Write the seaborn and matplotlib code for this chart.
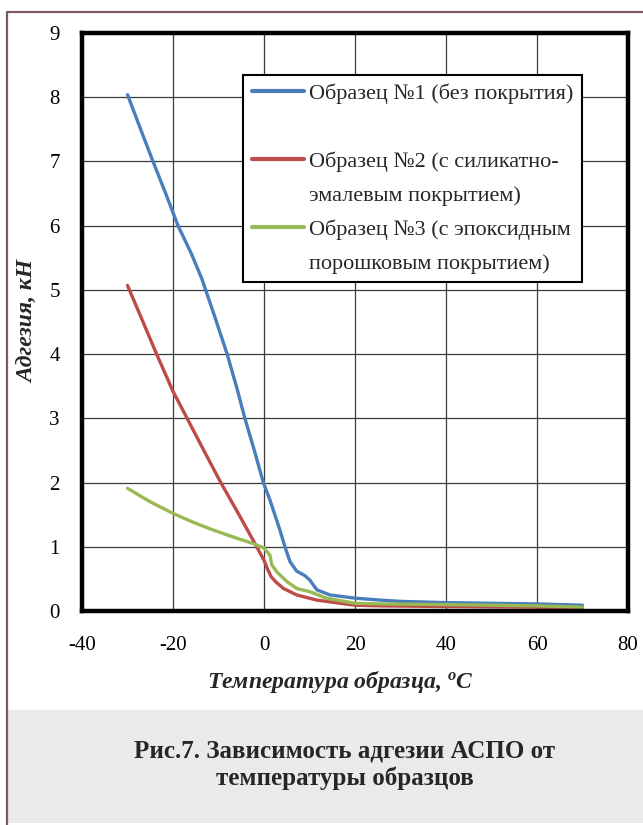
import matplotlib
matplotlib.use("Agg")
import matplotlib.pyplot as plt
import seaborn as sns
import pandas as pd
from matplotlib.lines import Line2D
from matplotlib.patches import Rectangle

# ---- data ----
series_names = ["Образец №1 (без покрытия)",
                "Образец №2 (с силикатно-эмалевым покрытием)",
                "Образец №3 (с эпоксидным порошковым покрытием)"]

t1 = [-30, -27, -24.4, -21.6, -18.9, -16, -13.7, -11, -8.1, -6, -4.2, -2, -0.15, 1.3,
      3.5, 4.6, 5.7, 7.2, 9, 10.1, 11.6, 14.5, 20, 25.5, 30, 40, 50, 60, 70]
f1 = [8.04, 7.48, 7.0, 6.5, 6.0, 5.57, 5.18, 4.62, 4.0, 3.48, 3.0, 2.47, 2.0, 1.73,
      1.26, 1.0, 0.77, 0.62, 0.55, 0.48, 0.33, 0.25, 0.2, 0.17, 0.15, 0.13, 0.12, 0.11, 0.09]

t2 = [-30, -27, -23.6, -20, -16.9, -13, -9.5, -5.5, -1.6, 0, 0.8, 1.6, 2.8, 4.3, 7.2,
      11.6, 20, 25.5, 40, 60, 70]
f2 = [5.07, 4.57, 4.0, 3.42, 3.0, 2.47, 2.0, 1.5, 1.0, 0.79, 0.65, 0.53, 0.44, 0.35,
      0.25, 0.17, 0.09, 0.08, 0.07, 0.06, 0.03]

t3 = [-30, -25, -20, -15.5, -11.9, -7.5, -2.4, 0, 1.3, 1.7, 2.8, 5, 7.2, 10.1, 13.7,
      20, 25.5, 40, 60, 70]
f3 = [1.91, 1.7, 1.52, 1.38, 1.28, 1.17, 1.05, 0.98, 0.87, 0.72, 0.61, 0.46, 0.35,
      0.30, 0.2, 0.12, 0.11, 0.10, 0.08, 0.06]

x_ticks = [-40, -20, 0, 20, 40, 60, 80]
y_ticks = [0, 1, 2, 3, 4, 5, 6, 7, 8, 9]
colors = ["#4A7EBB", "#BE4B48", "#98B954"]

legend_labels = ["Образец №1 (без покрытия)", " ",
                 "Образец №2 (с силикатно-", "эмалевым покрытием)",
                 "Образец №3 (с эпоксидным", "порошковым покрытием)"]

df = pd.concat([
    pd.DataFrame({"t": t1, "f": f1, "s": series_names[0]}),
    pd.DataFrame({"t": t2, "f": f2, "s": series_names[1]}),
    pd.DataFrame({"t": t3, "f": f3, "s": series_names[2]}),
], ignore_index=True)

sns.set_theme(style="white")
plt.rcParams['font.family'] = ['Liberation Serif', 'DejaVu Serif']
plt.rcParams['mathtext.fontset'] = 'custom'
plt.rcParams['mathtext.rm'] = 'Liberation Serif:bold:italic'
plt.rcParams['mathtext.it'] = 'Liberation Serif:italic:bold'

fig = plt.figure(figsize=(6.43, 8.25), dpi=100)
fig.patch.set_facecolor("white")

# gray caption box and border
fig.add_artist(Rectangle((7/643, 2/825), 636/643, 113/825, transform=fig.transFigure,
                         facecolor="#e9eaea", edgecolor="none", zorder=0))
fig.add_artist(Line2D([7/643, 7/643], [0, 1 - 12/825], transform=fig.transFigure,
                      color="#7d5a6b", lw=1.6))
fig.add_artist(Line2D([7/643, 1], [1 - 12/825, 1 - 12/825], transform=fig.transFigure,
                      color="#7d5a6b", lw=1.6))

ax = fig.add_axes([82/643, 1 - 611/825, 546/643, 578/825])
sns.lineplot(data=df, x="t", y="f", hue="s", palette=colors, sort=False,
             linewidth=2.4, ax=ax, legend=False, estimator=None)
for ln in ax.get_lines():
    ln.set_solid_joinstyle("round")
    ln.set_solid_capstyle("round")

ax.set_xlim(-40, 80)
ax.set_ylim(0, 9)
ax.set_xticks(x_ticks)
ax.set_yticks(y_ticks)
ax.set_xticklabels([str(v) for v in x_ticks])
ax.set_yticklabels([str(v) for v in y_ticks])
ax.grid(True, color="#3a3a3a", lw=0.9)
ax.set_axisbelow(True)
for sp in ax.spines.values():
    sp.set_visible(True)
    sp.set_color("black")
    sp.set_linewidth(3.2)
ax.tick_params(axis="both", length=0, labelsize=15, colors="black")
ax.tick_params(axis="x", pad=18)
ax.tick_params(axis="y", pad=16)
ax.set_xlabel("")
ax.set_ylabel("")

fig.text(340/643, 1 - 682/825, "Температура образца, $^{o}$C", ha="center", va="center",
         fontsize=17, fontweight="bold", fontstyle="italic")
fig.text(29/643, 1 - 321/825, "Адгезия, кН", ha="center", va="center", rotation=90,
         fontsize=17, fontweight="bold", fontstyle="italic")
fig.text(345/643, 1 - 765/825, "Рис.7. Зависимость адгезии АСПО от\nтемпературы образцов",
         ha="center", va="center", fontsize=18, fontweight="bold", linespacing=1.2)

handles = [Line2D([], [], color=colors[0], lw=3), Line2D([], [], color="none"),
           Line2D([], [], color=colors[1], lw=3), Line2D([], [], color="none"),
           Line2D([], [], color=colors[2], lw=3), Line2D([], [], color="none")]
leg = ax.legend(handles, legend_labels, loc="upper left", bbox_to_anchor=(0.295, 0.928),
                borderaxespad=0, frameon=True, fancybox=False, edgecolor="black",
                framealpha=1, fontsize=16, handlelength=2.35, handletextpad=0.2,
                labelspacing=0.6, borderpad=0.4)
leg.get_frame().set_linewidth(1.5)

fig.savefig("out.png", dpi=100)
